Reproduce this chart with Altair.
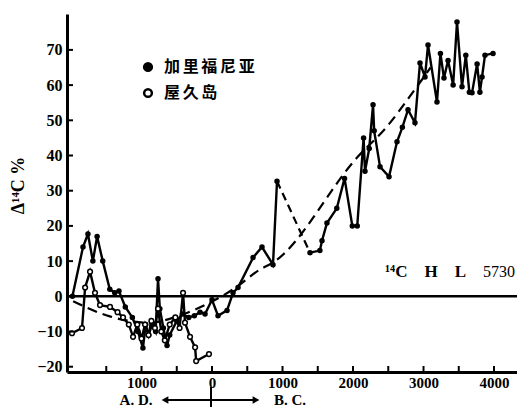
import altair as alt
import pandas as pd

# ---- data (years: negative = A.D., positive = B.C.) ----
cal_year_a = [-1980, -1830, -1760, -1690, -1630, -1550, -1450, -1380, -1320, -1230, -1130, -1050,
              -980, -940, -900, -850, -800, -766, -740, -690, -638, -600, -500, -420, -330, -250,
              -170, -99, 0, 85, 213, 298, 369, 582, 709, 865, 922]
cal_val_a = [0, 14, 17.7, 10, 17, 10, 2, 1, 1.5, -3, -6, -10,
             -14.7, -8, -11, -8, -10, 5, -3.5, -9, -14, -11, -7, -5, -6, -5.5,
             -4.5, -5, -1, -5.5, -4, 1, 2.5, 11, 14, 9, 32.7]
cal_year_b = [1390, 1530, 1560, 1630, 1770, 1880, 1990, 2060, 2150, 2170, 2230, 2284, 2300, 2383,
              2511, 2624, 2700, 2780, 2879, 2950, 3021, 3064, 3191, 3240, 3290, 3348, 3420, 3475,
              3546, 3600, 3650, 3688, 3760, 3800, 3830, 3872, 3986]
cal_val_b = [12.4, 13, 15.8, 20.8, 25, 33.5, 20, 20, 45, 35.5, 42, 54.4, 47, 36.8,
             34, 43.9, 48, 53, 49.3, 66.3, 62.3, 71.4, 55.2, 69, 62, 67, 60, 77.9,
             59.5, 68.5, 58, 57.8, 66, 58, 62.3, 68.5, 69]
yak_year = [-1986, -1844, -1800, -1730, -1660, -1589, -1447, -1340, -1262, -1180, -1120, -1060,
            -1000, -950, -900, -860, -810, -766, -720, -670, -600, -520, -460, -411, -383, -312,
            -240, -225, -43]
yak_val = [-10.5, -9, 2.5, 7, 1, -2.5, -3, -4.5, -6, -8, -11.5, -8,
           -12, -8, -11, -7, -9, -3.5, -10, -12.5, -8, -6, -9, 1, -7.5, -11.5,
           -14.5, -18.4, -16.4]
trend_year = [-1970, -1450, -900, -400, 0, 300, 680, 865, 2070, 2480, 2850, 3100]
trend_val = [-1.4, -5.7, -7.5, -5, -1.5, 2, 7.6, 9.6, 39.7, 48.2, 58, 65]
gap_year = [922, 1390]
gap_val = [32.7, 12.4]
zero_val = [0]

x_ticks = [-1500, -1000, -500, 0, 500, 1000, 1500, 2000, 2500, 3000, 3500, 4000]
x_labels = [-1000, 0, 1000, 2000, 3000, 4000]
y_ticks = [-20, -10, 0, 10, 20, 30, 40, 50, 60, 70]

CAL = "加里福尼亚"
YAK = "屋久岛"

rows = []
for i, (x, v) in enumerate(zip(cal_year_a, cal_val_a)):
    rows.append(dict(year=x, val=v, series=CAL, seg="c1", idx=i))
for i, (x, v) in enumerate(zip(cal_year_b, cal_val_b)):
    rows.append(dict(year=x, val=v, series=CAL, seg="c2", idx=i))
for i, (x, v) in enumerate(zip(yak_year, yak_val)):
    rows.append(dict(year=x, val=v, series=YAK, seg="y", idx=i))
df = pd.DataFrame(rows)
trend = pd.DataFrame(dict(year=trend_year, val=trend_val))
gap = pd.DataFrame(dict(year=gap_year, val=gap_val))
zdf = pd.DataFrame(dict(val=zero_val))
xt = pd.DataFrame(dict(year=x_ticks))
yt = pd.DataFrame(dict(val=y_ticks))
one = pd.DataFrame(dict(k=[0]))

W, H = 450, 358
xscale = alt.Scale(domain=[-2057, 4326], nice=False, zero=False)
yscale = alt.Scale(domain=[-21.5, 80.2], nice=False, zero=False)
SERIF = "Liberation Serif"
SP = "\u2002"

xaxis = alt.Axis(values=x_labels, labelExpr="abs(datum.value)", title=None, grid=False,
                 tickSize=0, domainWidth=3, domainColor="black", labelPadding=3,
                 labelOverlap=False, labelFont=SERIF, labelFontSize=15,
                 labelFontWeight="bold", labelColor="black")
yaxis = alt.Axis(values=y_ticks, title="Δ¹⁴C %", grid=False, tickSize=0, domainWidth=3,
                 domainColor="black", labelPadding=5, labelOverlap=False,
                 labelFont=SERIF, labelFontSize=16, labelFontWeight="bold", labelColor="black",
                 titleFont=SERIF, titleFontSize=18, titleFontWeight="bold",
                 titleColor="black", titleAngle=270, titleBaseline="middle",
                 titleX=-49, titleY=171)
X = alt.X("year:Q", scale=xscale, axis=xaxis)
Y = alt.Y("val:Q", scale=yscale, axis=yaxis)

base = alt.Chart(df)

zero = alt.Chart(zdf).mark_rule(color="black", strokeWidth=2.5).encode(y=Y)

trend_line = alt.Chart(trend).mark_line(color="black", strokeWidth=2.2, strokeDash=[10, 6],
                                        interpolate="monotone").encode(x=X, y=Y)
gap_line = alt.Chart(gap).mark_line(color="black", strokeWidth=2.2, strokeDash=[8, 5]).encode(
    x=X, y=Y)

lines = base.mark_line(color="black", strokeWidth=2.4).encode(
    x=X, y=Y, detail="seg:N", order="idx:Q")

pts = base.mark_point(shape="circle", filled=True, stroke="black", strokeWidth=1.5, opacity=1).encode(
    x=X, y=Y,
    fill=alt.Fill("series:N", scale=alt.Scale(domain=[CAL, YAK], range=["black", "white"]),
                  legend=alt.Legend(title=None, orient="none", legendX=73, legendY=45,
                                    labelFont="Noto Sans CJK SC", labelFontSize=16,
                                    labelFontWeight="bold", labelColor="black",
                                    labelExpr="join(split(datum.label, ''), '\u2006')",
                                    symbolType="circle", symbolSize=60,
                                    symbolStrokeColor="black", symbolStrokeWidth=2.5,
                                    rowPadding=8, labelOffset=8)),
    size=alt.condition(alt.datum.series == YAK, alt.value(22), alt.value(16)))

ytick = alt.Chart(yt).mark_rule(color="black", strokeWidth=2).encode(
    y=Y, x=alt.value(0), x2=alt.value(6))
xtick = alt.Chart(xt).mark_rule(color="black", strokeWidth=2).encode(
    x=X, y=alt.value(H), y2=alt.value(H - 6))

ann1 = alt.Chart(one).mark_text(text=f"¹⁴C{SP}{SP}H{SP}{SP}L", font=SERIF, fontSize=17,
                                fontWeight="bold", align="left", baseline="middle",
                                color="black").encode(x=alt.value(318), y=alt.value(258))
ann2 = alt.Chart(one).mark_text(text="5730", font=SERIF, fontSize=16,
                                align="left", baseline="middle", color="black").encode(
    x=alt.value(416), y=alt.value(258))
ad = alt.Chart(one).mark_text(text="A. D.", font=SERIF, fontSize=15, fontWeight="bold",
                              align="center", baseline="middle", color="black").encode(
    x=alt.value(69), y=alt.value(386))
bc = alt.Chart(one).mark_text(text="B. C.", font=SERIF, fontSize=15, fontWeight="bold",
                              align="center", baseline="middle", color="black").encode(
    x=alt.value(223), y=alt.value(386))
arrow = alt.Chart(one).mark_rule(color="black", strokeWidth=2).encode(
    x=alt.value(98), x2=alt.value(189), y=alt.value(386))
headl = alt.Chart(one).mark_point(shape="triangle-left", filled=True, color="black", size=60,
                                  opacity=1).encode(x=alt.value(98), y=alt.value(386))
headr = alt.Chart(one).mark_point(shape="triangle-right", filled=True, color="black", size=60,
                                  opacity=1).encode(x=alt.value(189), y=alt.value(386))
vt = alt.Chart(one).mark_rule(color="black", strokeWidth=2).encode(
    x=alt.value(144), y=alt.value(373), y2=alt.value(399))

chart = alt.layer(zero, trend_line, gap_line, lines, pts, ytick, xtick, ann1, ann2,
                  ad, bc, arrow, headl, headr, vt).properties(
    width=W, height=H,
    autosize=alt.AutoSizeParams(type="none"),
    padding={"left": 59, "top": 6, "right": 0, "bottom": 35},
).configure_view(stroke=None).configure_axis(labelOverlap=False, labelBound=False)

chart.save("out.html", embed_options={"renderer": "svg", "actions": False})
